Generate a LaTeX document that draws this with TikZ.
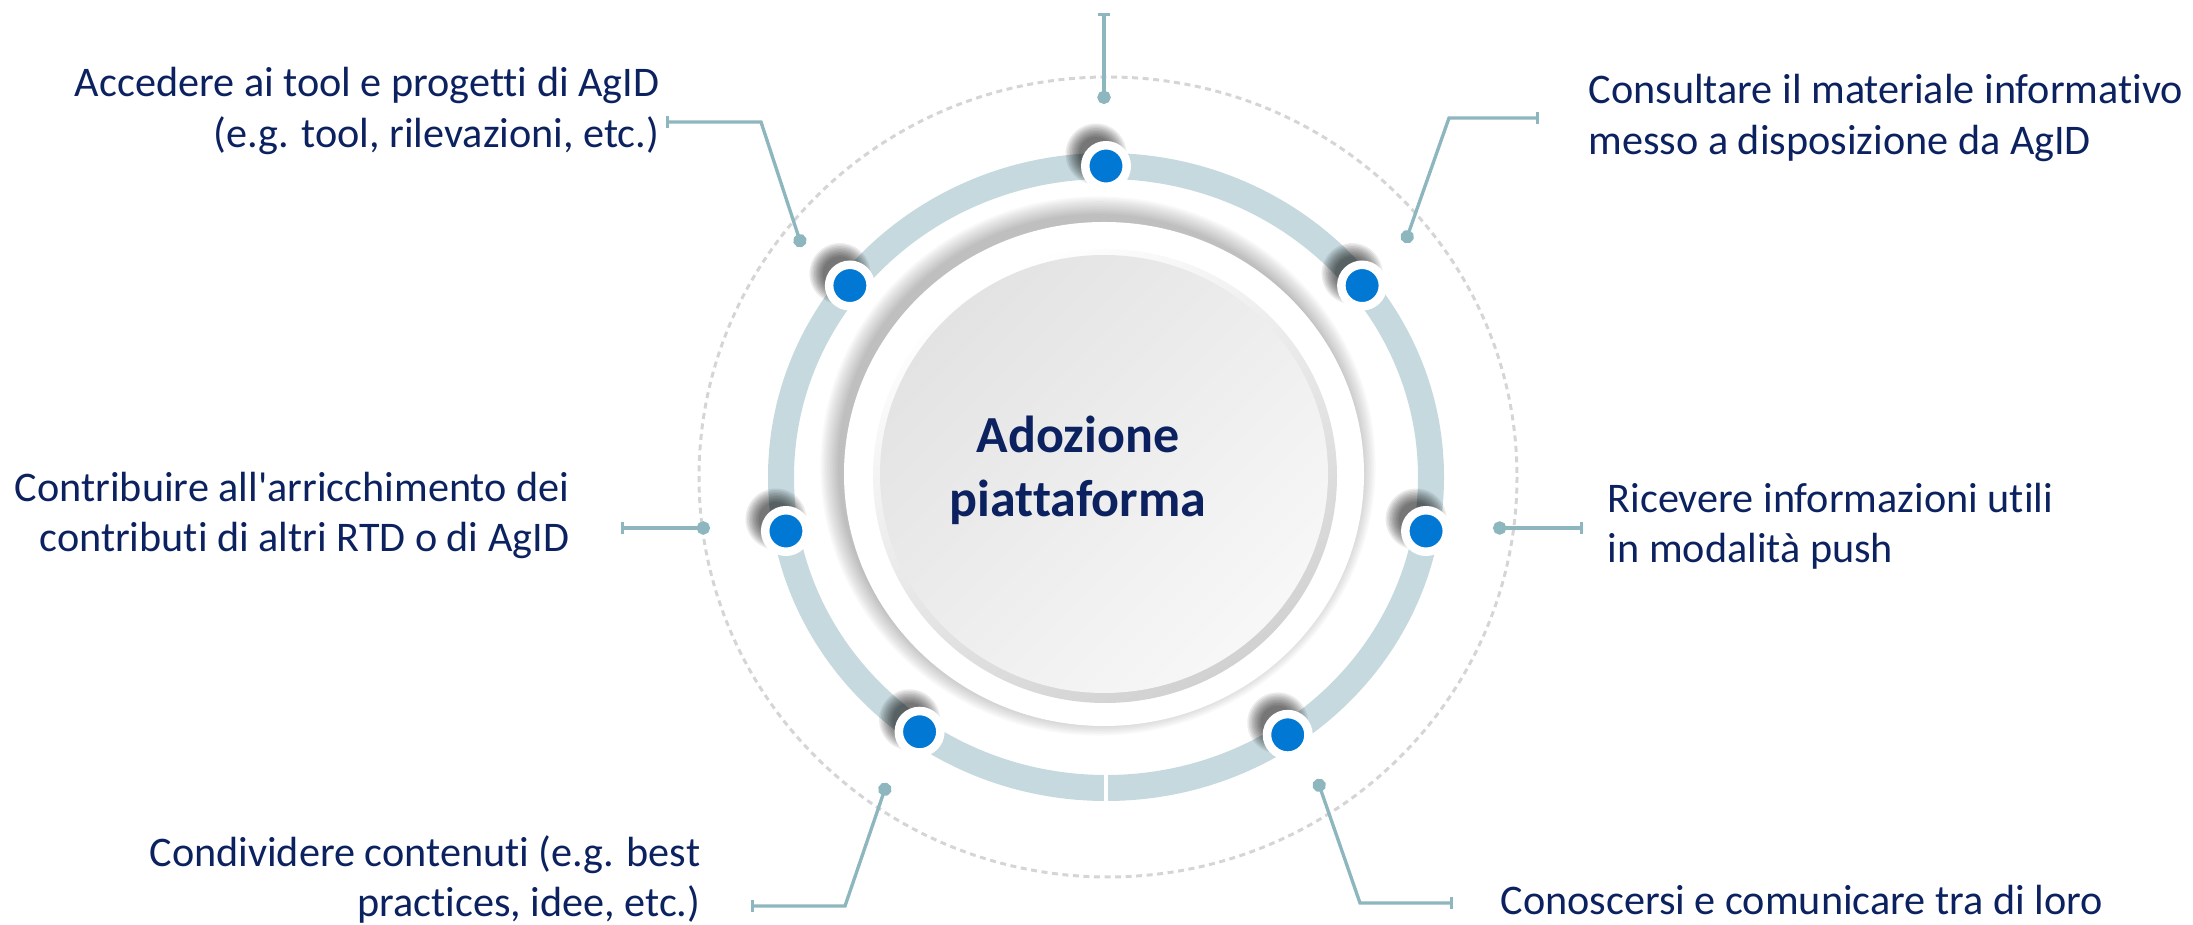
\documentclass[tikz,border=0pt]{standalone}
\usepackage{fontspec}
\setmainfont{Carlito}[Ligatures=NoCommon]
\usetikzlibrary{arrows.meta}
\definecolor{navy}{HTML}{0C2260}
\definecolor{linkclr}{HTML}{8DB6BF}
\definecolor{ringclr}{HTML}{C5D9DE}
\definecolor{dotclr}{HTML}{0078D4}
\definecolor{dashclr}{HTML}{D5D5D5}
\tikzset{
  itemtext/.style={text=navy, inner sep=0pt, font=\fontsize{12}{14.5}\selectfont},
  link/.style={draw=linkclr, line width=0.95pt, {Circle[length=3.8pt]}-{Bar[width=3.6pt]}},
  ringdot/.style={circle, fill=dotclr, draw=white, line width=0.085cm, minimum size=0.415cm, inner sep=0pt},
}
\begin{document}
\begin{tikzpicture}[x=0.01cm, y=-0.01cm]
		\useasboundingbox (0,0) rectangle (2193,925);
		% Dotted orbit
		\draw[dashclr, line width=0.85pt, dash pattern=on 1.7pt off 1.3pt] (1108,477) ellipse [x radius=409, y radius=400];
		
		% Connector ends
		\coordinate (top-a) at (1104,104);
		\coordinate (top-b) at (1104,13);
		\coordinate (tl-a) at (802,247);
		\coordinate (tl-b) at (761,122);
		\coordinate (tl-c) at (666,122);
		\coordinate (tr-a) at (1405,243);
		\coordinate (tr-b) at (1449,118);
		\coordinate (tr-c) at (1539,118);
		\coordinate (l-a) at (710,528);
		\coordinate (l-c) at (621,528);
		\coordinate (r-a) at (1493,528);
		\coordinate (r-c) at (1583,528);
		\coordinate (bl-a) at (887,783);
		\coordinate (bl-b) at (845,906);
		\coordinate (bl-c) at (751,906);
		\coordinate (br-a) at (1317,779);
		\coordinate (br-b) at (1360,903);
		\coordinate (br-c) at (1453,903);
		
		\draw[link] (top-a) -- (top-b);
		\draw[link] (tl-a) -- (tl-b) -- (tl-c);
		\draw[link] (tr-a) -- (tr-b) -- (tr-c);
		\draw[link] (l-a) -- (l-c);
		\draw[link] (r-a) -- (r-c);
		\draw[link] (bl-a) -- (bl-b) -- (bl-c);
		\draw[link] (br-a) -- (br-b) -- (br-c);
		
		% Ring
		\draw[ringclr, line width=0.26cm] (1106,477) ellipse [x radius=325, y radius=311];
		\draw[white, line width=0.04cm] (1106,760) -- (1106,805);
		
		% Central disc
		\foreach \i in {0,...,11}
			\fill[black, opacity=0.025] (1098,466) ellipse [x radius={260+1.6*\i}, y radius={252+1.6*\i}];
		\fill[white] (1104,474) ellipse [x radius=260, y radius=252];
		\shade[top color=white, bottom color=black!18, shading angle=30] (1105,476) ellipse [x radius=232, y radius=227];
		\shade[top color=black!11, bottom color=black!3, shading angle=45] (1104,474) ellipse [x radius=224, y radius=219];
		\node[text=navy, font=\bfseries\fontsize{14.8}{18.2}\selectfont, align=center, anchor=base, inner sep=0pt] (core) at (1078,517) {Adozione\\piattaforma};
		
		% Dots on the ring
		\foreach \a/\n in {90/top, 142/tl, 38/tr, 190/l, 350/r, 235/bl, 304/br} {
			\foreach \i in {0,...,9}
				\fill[black, opacity=0.075] ({1096+325*cos(\a)},{465-311*sin(\a)}) circle ({17+1.5*\i});
			\node[ringdot] (dot-\n) at ({1106+325*cos(\a)},{477-311*sin(\a)}) {};
		}
		
		% Labels
		\node[itemtext, anchor=base east, align=right] (txt-tl) at (660,148) {Accedere ai tool e progetti di AgID\\(e.g. tool, rilevazioni, etc.)};
		\node[itemtext, anchor=base west, align=left] (txt-tr) at (1588,155) {Consultare il materiale informativo\\messo a disposizione da AgID};
		\node[itemtext, anchor=base east, align=right] (txt-l) at (570,552) {Contribuire all\textquotesingle arricchimento dei\\contributi di altri RTD o di AgID};
		\node[itemtext, anchor=base west, align=left] (txt-r) at (1607,563) {Ricevere informazioni utili\\in modalità push};
		\node[itemtext, anchor=base east, align=right] (txt-bl) at (701,917) {Condividere contenuti (e.g. best\\practices, idee, etc.)};
		\node[itemtext, anchor=base west] (txt-br) at (1500,915) {Conoscersi e comunicare tra di loro};
	\end{tikzpicture}
\end{document}
